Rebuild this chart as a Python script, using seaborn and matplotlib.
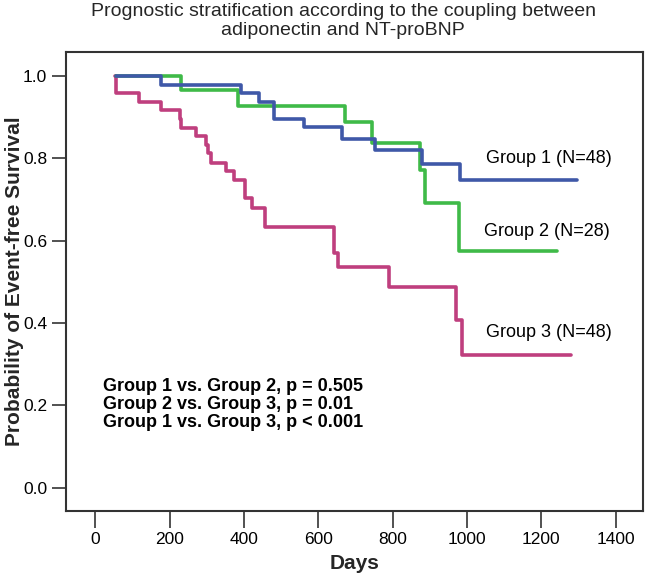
import pandas as pd
import matplotlib
matplotlib.use('Agg')
import matplotlib.pyplot as plt
import seaborn as sns

# Kaplan-Meier steps (days, survival)
g1_days = [57, 177, 392, 441, 482, 562, 665, 753, 878, 981, 1295]
g1_surv = [1.0, 0.979, 0.958, 0.9375, 0.896, 0.875, 0.848, 0.82, 0.786, 0.748, 0.748]

g2_days = [57, 231, 385, 672, 744, 873, 886, 978, 1242]
g2_surv = [1.0, 0.966, 0.928, 0.889, 0.838, 0.772, 0.692, 0.576, 0.576]

g3_days = [54, 55, 119, 176, 227, 231, 271, 298, 302, 312, 352, 372, 404, 423, 457,
           643, 652, 790, 971, 986, 1281]
g3_surv = [1.0, 0.958, 0.9375, 0.917, 0.896, 0.873, 0.854, 0.833, 0.812, 0.788, 0.768,
           0.748, 0.703, 0.68, 0.634, 0.57, 0.537, 0.487, 0.408, 0.323, 0.323]

group_names = ['Group 1 (N=48)', 'Group 2 (N=28)', 'Group 3 (N=48)']
label_pos = [(1050, 0.80), (1047, 0.623), (1050, 0.376)]
colors = ['#3F58A8', '#3FBA48', '#BF3F7E']

pvalue_lines = ['Group 1 vs. Group 2, p = 0.505',
                'Group 2 vs. Group 3, p = 0.01',
                'Group 1 vs. Group 3, p < 0.001']

x_ticks = [0, 200, 400, 600, 800, 1000, 1200, 1400]
y_ticks = [0.0, 0.2, 0.4, 0.6, 0.8, 1.0]

sns.set_style('ticks')
plt.rcParams['font.family'] = ['Liberation Sans', 'DejaVu Sans']

fig = plt.figure(figsize=(6.46, 5.78), dpi=100)
ax = fig.add_axes([0.102, 0.116, 0.893, 0.794])

curves = [(g3_days, g3_surv, colors[2]),
          (g2_days, g2_surv, colors[1]),
          (g1_days, g1_surv, colors[0])]
for days, surv, col in curves:
    df = pd.DataFrame({'Days': days, 'Survival': surv})
    sns.lineplot(data=df, x='Days', y='Survival', ax=ax, color=col,
                 drawstyle='steps-post', linewidth=2.6, estimator=None)

for name, (lx, ly) in zip(group_names, label_pos):
    ax.text(lx, ly, name, fontsize=13, va='center', ha='left', color='black')

for i, line in enumerate(pvalue_lines):
    ax.text(20, 0.245 - i * 0.0437, line, fontsize=13, fontweight='bold',
            va='center', ha='left', color='black')

ax.set_xlim(-79, 1473)
ax.set_ylim(-0.056, 1.058)
ax.set_xticks(x_ticks)
ax.set_yticks(y_ticks)
ax.set_yticklabels([f'{v:.1f}' for v in y_ticks])
ax.tick_params(axis='both', labelsize=12.5, length=10, width=1.2, color='#333333',
               labelcolor='black')
ax.tick_params(axis='x', length=12)
for sp in ax.spines.values():
    sp.set_visible(True)
    sp.set_linewidth(1.5)
    sp.set_color('#333333')

ax.set_xlabel('Days', fontsize=15, fontweight='bold', labelpad=5)
ax.set_ylabel('Probability of Event-free Survival', fontsize=15, fontweight='bold')
ax.yaxis.set_label_coords(-0.073, 0.5)

fig.text(0.531, 0.995, 'Prognostic stratification according to the coupling between\nadiponectin and NT-proBNP',
         ha='center', va='top', fontsize=14, linespacing=1.15)

fig.savefig('out.png', dpi=100)
